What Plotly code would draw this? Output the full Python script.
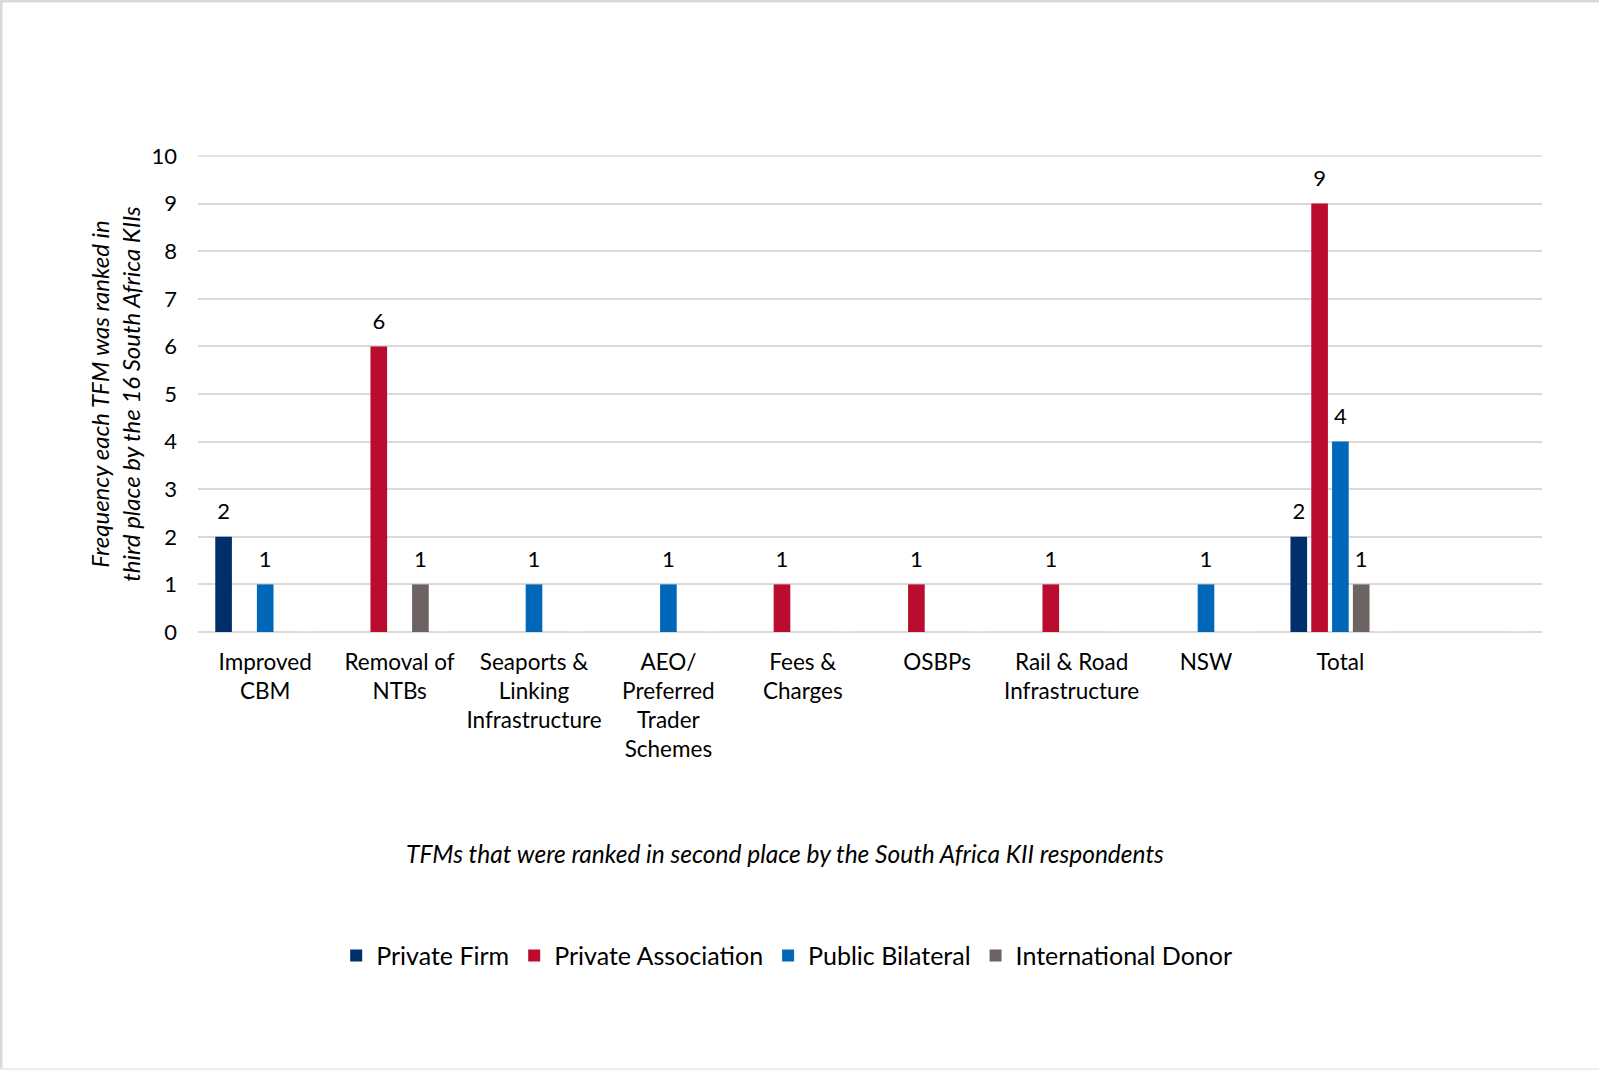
import plotly.graph_objects as go

# TFM categories (the trailing blank keeps the empty slot at the right end of the axis)
categories = [
    "Improved<br>CBM",
    "Removal of<br>NTBs",
    "Seaports &<br>Linking<br>Infrastructure",
    "AEO/<br>Preferred<br>Trader<br>Schemes",
    "Fees &<br>Charges",
    "OSBPs",
    "Rail & Road<br>Infrastructure",
    "NSW",
    "Total",
    " ",
]

private_firm = [2, 0, 0, 0, 0, 0, 0, 0, 2, 0]
private_association = [0, 6, 0, 0, 1, 1, 1, 0, 9, 0]
public_bilateral = [1, 0, 1, 1, 0, 0, 0, 1, 4, 0]
international_donor = [0, 1, 0, 0, 0, 0, 0, 0, 1, 0]
unused_group = [0, 0, 0, 0, 0, 0, 0, 0, 0, 0]

series_names = ["Private Firm", "Private Association", "Public Bilateral", "International Donor"]
series_values = [private_firm, private_association, public_bilateral, international_donor]
series_colors = ["#002F6C", "#BA0C2F", "#0067B9", "#6C6463"]

y_max = 10
FONT = "Lato, 'Open Sans', sans-serif"
GRID = "#D9D9D9"

fig = go.Figure()

for name, vals, col in zip(series_names, series_values, series_colors):
    fig.add_trace(go.Bar(
        x=categories, y=vals, name=name,
        marker=dict(color=col, line=dict(width=0)),
        hoverinfo="skip",
    ))
# empty fifth slot in each group
fig.add_trace(go.Bar(x=categories, y=unused_group, showlegend=False,
                     marker=dict(color="rgba(0,0,0,0)"), hoverinfo="skip"))

# value labels above non-zero bars
for vals in series_values + [unused_group]:
    fig.add_trace(go.Scatter(
        x=categories, y=vals,
        mode="markers+text",
        text=[str(v) if v else "" for v in vals],
        textposition="top center",
        textfont=dict(family=FONT, size=22, color="#000000"),
        marker=dict(size=18, color="rgba(0,0,0,0)"),
        showlegend=False, hoverinfo="skip", cliponaxis=False,
    ))

fig.update_layout(
    width=1599, height=1070,
    margin=dict(l=198, r=57, t=156, b=438),
    paper_bgcolor="white", plot_bgcolor="white",
    barmode="group", bargap=0.226, bargroupgap=0.2,
    scattermode="group", scattergap=0.226,
    font=dict(family=FONT, size=22, color="#000000"),
    showlegend=True,
    legend=dict(
        orientation="h", x=0.438, xanchor="center", y=-0.68, yanchor="middle",
        font=dict(family=FONT, size=25, color="#000000"),
        traceorder="normal",
    ),
    xaxis=dict(
        type="category", showgrid=False, showline=False, zeroline=False,
        ticks="", tickfont=dict(family=FONT, size=22.5, color="#000000"),
        ticklabelstandoff=14,
    ),
    yaxis=dict(
        range=[0, y_max], tickvals=list(range(y_max + 1)), showgrid=True,
        gridcolor=GRID, gridwidth=1.5,
        zeroline=True, zerolinecolor=GRID, zerolinewidth=1.5,
        showline=False, ticks="", ticklabelstandoff=20,
        tickfont=dict(family=FONT, size=22, color="#000000"),
    ),
    annotations=[
        dict(
            text="Frequency each TFM was ranked in<br>third place by the 16 South Africa KIIs",
            xref="paper", yref="paper", x=-0.062, y=0.50,
            xanchor="center", yanchor="middle", textangle=-90, showarrow=False,
            font=dict(family=FONT, size=24, color="#000000", style="italic"),
        ),
        dict(
            text="TFMs that were ranked in second place by the South Africa KII respondents",
            xref="paper", yref="paper", x=0.437, y=-0.466,
            xanchor="center", yanchor="middle", showarrow=False,
            font=dict(family=FONT, size=24.5, color="#000000", style="italic"),
        ),
    ],
    shapes=[
        # top gridline at the axis maximum
        dict(type="line", xref="paper", yref="paper", x0=0, x1=1, y0=1.0, y1=1.0,
             line=dict(color=GRID, width=1.5), layer="below"),
        # thin frame along the top, left and bottom edges of the figure
        dict(type="line", xref="paper", yref="paper", x0=-0.148, x1=1.05, y0=1.3256, y1=1.3256,
             line=dict(color=GRID, width=3)),
        dict(type="line", xref="paper", yref="paper", x0=-0.1466, x1=-0.1466, y0=-0.92, y1=1.33,
             line=dict(color=GRID, width=3)),
        dict(type="line", xref="paper", yref="paper", x0=-0.148, x1=1.05, y0=-0.9185, y1=-0.9185,
             line=dict(color="#EBEBEB", width=2)),
    ],
)

fig.write_html("out.html")
